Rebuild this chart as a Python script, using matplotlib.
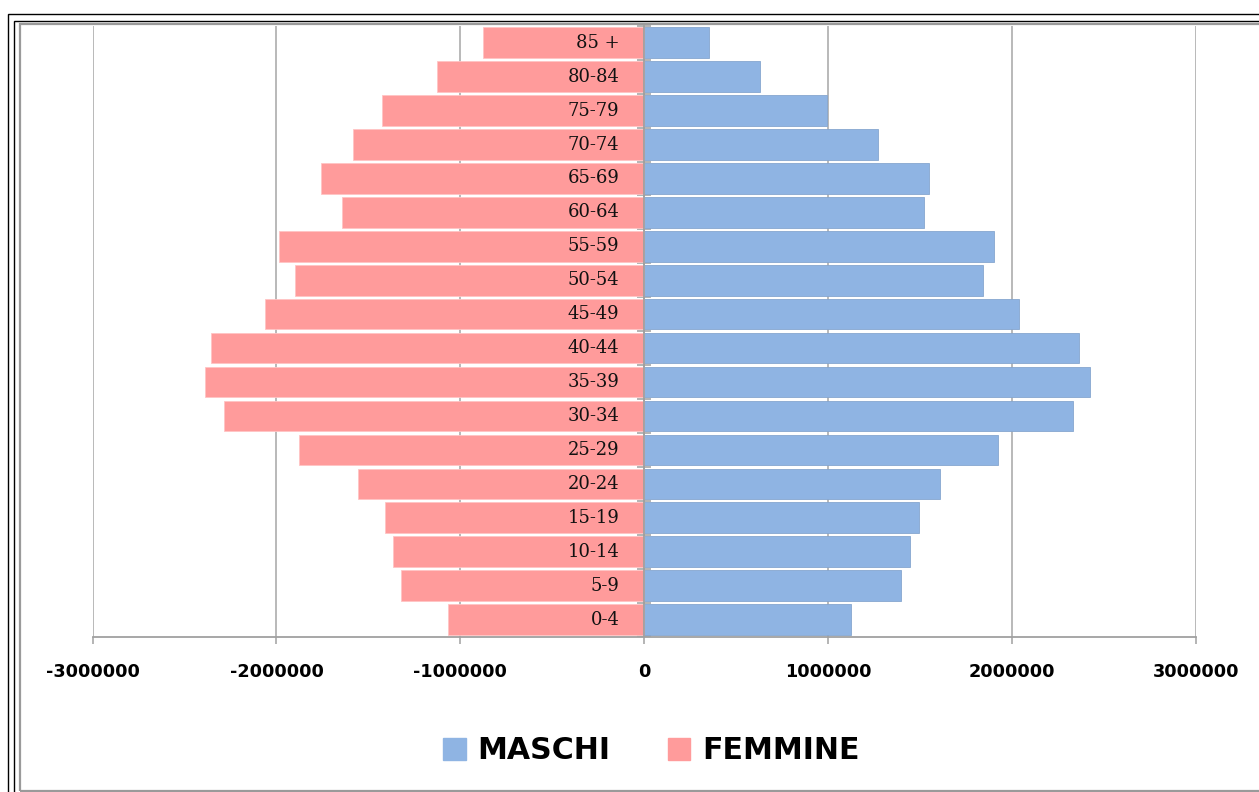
import numpy as np
import matplotlib
matplotlib.use("Agg")
import matplotlib.pyplot as plt
from matplotlib.patches import Patch, Rectangle
from matplotlib.lines import Line2D

categories = ["0-4", "5-9", "10-14", "15-19", "20-24", "25-29", "30-34", "35-39",
              "40-44", "45-49", "50-54", "55-59", "60-64", "65-69", "70-74",
              "75-79", "80-84", "85 +"]
maschi = [1127000, 1397000, 1443000, 1495000, 1607000, 1923000, 2330000, 2426000,
          2366000, 2036000, 1840000, 1900000, 1519000, 1548000, 1270000,
          992000, 629000, 352000]
femmine = [1067000, 1321000, 1366000, 1412000, 1554000, 1876000, 2283000, 2388000,
           2357000, 2063000, 1898000, 1989000, 1644000, 1757000, 1584000,
           1426000, 1127000, 879000]
xticks = [-3000000, -2000000, -1000000, 0, 1000000, 2000000, 3000000]

BLUE = "#8FB4E3"
PINK = "#FF9B9B"
GREY = "#a0a0a0"

W, H = 1259, 792
fig = plt.figure(figsize=(W / 100, H / 100), dpi=100)
ax = fig.add_axes([92.6 / W, 1 - 636.5 / H, (1195.9 - 92.6) / W, (636.5 - 25.8) / H])

y = np.arange(len(categories))
ax.barh(y, maschi, height=0.9, color=BLUE, edgecolor="#86a6cf", linewidth=0.6, zorder=2)
ax.barh(y, -np.array(femmine), height=0.9, color=PINK, edgecolor="#ffc4c4", linewidth=0.6, zorder=2)

ax.set_xlim(-3000000, 3000000)
ax.set_ylim(-0.5, len(categories) - 0.5)

ax.set_xticks(xticks)
ax.set_xticklabels([str(v) for v in xticks], fontsize=12.7, fontweight="bold",
                   family="DejaVu Sans")
ax.tick_params(axis="x", direction="out", length=5, width=1.1, color=GREY, pad=14)
ax.grid(axis="x", color="#a6a6a6", linewidth=1.1, zorder=0)
ax.set_axisbelow(True)

# y axis at zero with boundary ticks
ax.spines["left"].set_position(("data", 0))
ax.spines["left"].set_color(GREY)
ax.spines["left"].set_linewidth(1.3)
ax.spines["left"].set_zorder(3)
ax.set_yticks(np.arange(len(categories) + 1) - 0.5)
ax.set_yticklabels([])
ax.tick_params(axis="y", direction="inout", length=10, width=1.1, color=GREY)
for t in ax.yaxis.get_ticklines():
    t.set_zorder(4)
ax.spines["bottom"].set_color(GREY)
ax.spines["bottom"].set_linewidth(1.3)
ax.spines["top"].set_visible(False)
ax.spines["right"].set_visible(False)

for yi, lab in zip(y, categories):
    ax.text(-134000, yi, lab, ha="right", va="center", fontsize=13,
            family="DejaVu Serif", color="#111111", zorder=5)

handles = [Patch(facecolor=BLUE, edgecolor=BLUE, label="MASCHI"),
           Patch(facecolor=PINK, edgecolor=PINK, label="FEMMINE")]
fig.legend(handles=handles, loc="center", bbox_to_anchor=(651.5 / W, 1 - 750.5 / H),
           ncol=2, frameon=False, prop={"family": "DejaVu Sans", "weight": "bold", "size": 21.6},
           handlelength=0.75, handleheight=0.75, handletextpad=0.4, columnspacing=1.9)

# frames
def px_rect(x0, y0, x1, y1, color, lw):
    fig.add_artist(Rectangle((x0 / W, 1 - y1 / H), (x1 - x0) / W, (y1 - y0) / H,
                             transform=fig.transFigure, fill=False,
                             edgecolor=color, linewidth=lw, clip_on=False))

px_rect(8.3, 14.3, W + 20, H + 20, "black", 1.0)
px_rect(14.3, 21.3, W + 20, H + 20, "black", 1.0)
px_rect(19.5, 24.3, W + 20, 790.5, "#9a9a9a", 1.6)

fig.savefig("out.png", dpi=100)
